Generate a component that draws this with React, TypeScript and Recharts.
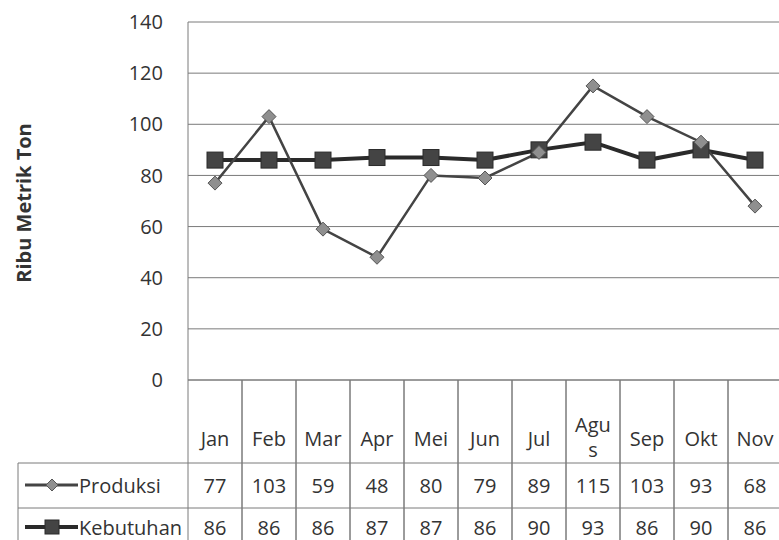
import { LineChart, Line, XAxis, YAxis, CartesianGrid, Label } from "recharts";

const MONTHS = ["Jan", "Feb", "Mar", "Apr", "Mei", "Jun", "Jul", "Agus", "Sep", "Okt", "Nov"];
const PRODUKSI = [77, 103, 59, 48, 80, 79, 89, 115, 103, 93, 68];
const KEBUTUHAN = [86, 86, 86, 87, 87, 86, 90, 93, 86, 90, 86];
const Y_TICKS = [0, 20, 40, 60, 80, 100, 120, 140];

const FONT = "'Open Sans', 'Noto Sans', sans-serif";
const GRID = "#7a7a7a";
const TEXT = "#333";
const CHART_W = 790;
const CHART_H = 540;
const MARGIN = { top: 22, right: 8, left: 0, bottom: 0 };
const Y_W = 188;
const PLOT_W = CHART_W - MARGIN.left - MARGIN.right - Y_W;
const CELL = PLOT_W / MONTHS.length;

const data = MONTHS.map((m, i) => ({ month: m, produksi: PRODUKSI[i], kebutuhan: KEBUTUHAN[i] }));

function Diamond({ cx, cy, size = 7 }: { cx: number; cy: number; size?: number }) {
  return (
    <polygon
      points={`${cx},${cy - size} ${cx + size},${cy} ${cx},${cy + size} ${cx - size},${cy}`}
      fill="#8f8f8f"
      stroke="#555"
      strokeWidth={1}
    />
  );
}

function Square({ cx, cy, size = 8 }: { cx: number; cy: number; size?: number }) {
  return <rect x={cx - size} y={cy - size} width={size * 2} height={size * 2} fill="#444" stroke="#2a2a2a" />;
}

// x axis tick doubles as the data table column
function TableTick(props: any) {
  const { x, y, payload, index } = props;
  const h = CELL / 2;
  const label = String(payload.value);
  const parts = label.length > 3 ? [label.slice(0, 3), label.slice(3)] : [label];
  const txt = { fontFamily: FONT, fontSize: 20, fill: TEXT, textAnchor: "middle" as const, dominantBaseline: "central" as const };
  return (
    <g>
      <line x1={x - h} y1={y} x2={x - h} y2={CHART_H} stroke={GRID} />
      <line x1={x + h} y1={y} x2={x + h} y2={CHART_H} stroke={GRID} />
      <line x1={x - h} y1={y + 83} x2={x + h} y2={y + 83} stroke={GRID} />
      <line x1={x - h} y1={y + 128} x2={x + h} y2={y + 128} stroke={GRID} />
      {parts.length === 1 ? (
        <text x={x} y={y + 58} {...txt}>{label}</text>
      ) : (
        <text {...txt}>
          <tspan x={x} y={y + 44}>{parts[0]}</tspan>
          <tspan x={x} y={y + 69}>{parts[1]}</tspan>
        </text>
      )}
      <text x={x} y={y + 105} {...txt}>{PRODUKSI[index]}</text>
      <text x={x} y={y + 147} {...txt}>{KEBUTUHAN[index]}</text>
      {index === 0 && (
        <g>
          <line x1={18} y1={y + 83} x2={x - h} y2={y + 83} stroke={GRID} />
          <line x1={18} y1={y + 128} x2={x - h} y2={y + 128} stroke={GRID} />
          <line x1={18} y1={y + 83} x2={18} y2={CHART_H} stroke={GRID} />
          <line x1={25} y1={y + 105} x2={78} y2={y + 105} stroke="#444" strokeWidth={3} />
          <Diamond cx={52} cy={y + 105} size={6} />
          <text x={79} y={y + 105} {...txt} textAnchor="start">Produksi</text>
          <line x1={25} y1={y + 147} x2={78} y2={y + 147} stroke="#2a2a2a" strokeWidth={4} />
          <Square cx={52} cy={y + 147} size={7} />
          <text x={79} y={y + 147} {...txt} textAnchor="start">Kebutuhan</text>
        </g>
      )}
    </g>
  );
}

export default function App() {
  return (
    <div style={{ position: "fixed", left: 0, top: 0, width: 779, height: 540, overflow: "hidden", background: "#fff" }}>
      <LineChart width={CHART_W} height={CHART_H} data={data} margin={MARGIN}>
        <CartesianGrid vertical={false} stroke={GRID} />
        <XAxis
          dataKey="month"
          height={CHART_H - MARGIN.top - MARGIN.bottom - 358}
          padding={{ left: CELL / 2, right: CELL / 2 }}
          tickLine={false}
          tickSize={0}
          tickMargin={0}
          axisLine={{ stroke: GRID }}
          interval={0}
          tick={<TableTick />}
        />
        <YAxis
          width={Y_W}
          domain={[0, 140]}
          ticks={Y_TICKS}
          tickLine={false}
          tickSize={0}
          tickMargin={25}
          axisLine={{ stroke: GRID }}
          tick={{ fontFamily: FONT, fontSize: 20, fill: TEXT }}
        >
          <Label
            content={() => (
              <text
                x={23}
                y={203}
                transform="rotate(-90 23 203)"
                textAnchor="middle"
                dominantBaseline="central"
                fontFamily={FONT}
                fontSize={20}
                fontWeight="bold"
                fill={TEXT}
              >
                Ribu Metrik Ton
              </text>
            )}
          />
        </YAxis>
        <Line
          dataKey="kebutuhan"
          stroke="#2a2a2a"
          strokeWidth={4}
          isAnimationActive={false}
          dot={(p: any) => <Square key={`k${p.index}`} cx={p.cx} cy={p.cy} />}
        />
        <Line
          dataKey="produksi"
          stroke="#444"
          strokeWidth={2.5}
          isAnimationActive={false}
          dot={(p: any) => <Diamond key={`p${p.index}`} cx={p.cx} cy={p.cy} />}
        />
      </LineChart>
    </div>
  );
}
